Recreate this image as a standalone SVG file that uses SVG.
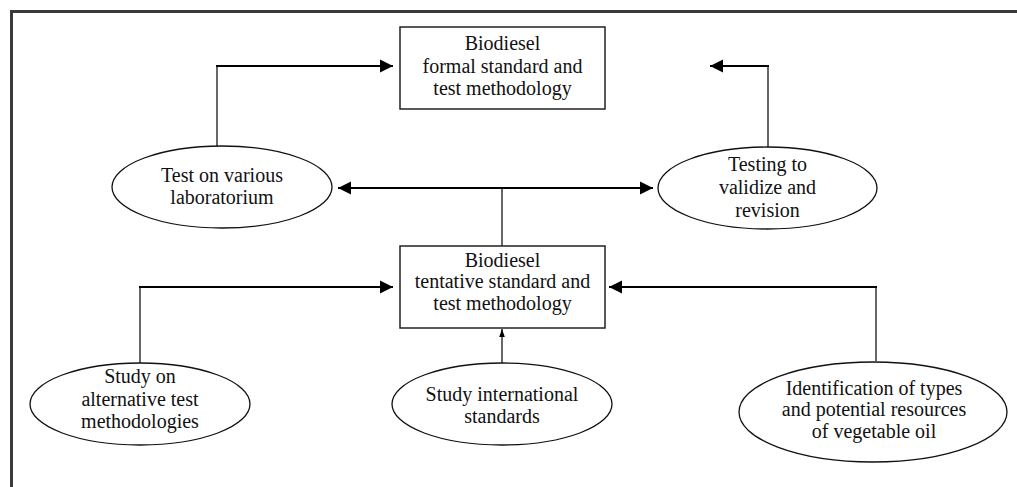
<svg xmlns="http://www.w3.org/2000/svg" width="1017" height="487" viewBox="0 0 1017 487">
<style>
.frame{fill:none;stroke:#3a3a3a;stroke-width:3}
.box{fill:#fff;stroke:#222;stroke-width:1.5}
.ell{fill:#fff;stroke:#111;stroke-width:1.3}
.t{font-family:"Liberation Serif","Times New Roman",serif;font-size:20px;fill:#111;text-anchor:middle}
.thick{fill:none;stroke:#000;stroke-width:2.2}
.thin{fill:none;stroke:#000;stroke-width:1.2}
</style>
<defs>
<marker id="ah" viewBox="0 0 10 10" refX="10" refY="5" markerWidth="6" markerHeight="6" orient="auto-start-reverse" markerUnits="strokeWidth">
<path d="M0,0 L10,5 L0,10 z" fill="#000"/>
</marker>
<marker id="ahs" viewBox="0 0 10 10" refX="10" refY="5" markerWidth="7" markerHeight="7" orient="auto" markerUnits="strokeWidth">
<path d="M0,1.5 L10,5 L0,8.5 z" fill="#000"/>
</marker>
</defs>
<rect width="1017" height="487" fill="#fff"/>
<path class="frame" d="M11.5,487 V11.5 H1017"/>
<g id="connectors">
<path class="thin" d="M217,147 V66"/>
<path class="thick" d="M216,66 H393" marker-end="url(#ah)"/>
<path class="thin" d="M768,147 V66"/>
<path class="thick" d="M769,66 H710" marker-end="url(#ah)"/>
<path class="thick" d="M338,188 H653" marker-start="url(#ah)" marker-end="url(#ah)"/>
<path class="thin" d="M502,188 V246"/>
<path class="thin" d="M140,363 V287"/>
<path class="thick" d="M139,287 H393" marker-end="url(#ah)"/>
<path class="thin" d="M876,361 V287"/>
<path class="thick" d="M877,287 H609" marker-end="url(#ah)"/>
<path class="thin" d="M502,363 V329" marker-end="url(#ahs)"/>
</g>
<g id="formal">
<rect class="box" x="400" y="27" width="205" height="82"/>
<text class="t" x="502.5" y="50">Biodiesel</text>
<text class="t" x="502.5" y="73">formal standard and</text>
<text class="t" x="502.5" y="95">test methodology</text>
</g>
<g id="lab">
<ellipse class="ell" cx="222" cy="187" rx="110" ry="41"/>
<text class="t" x="222" y="182">Test on various</text>
<text class="t" x="222" y="204">laboratorium</text>
</g>
<g id="validize">
<ellipse class="ell" cx="767.5" cy="188" rx="109.5" ry="41"/>
<text class="t" x="767.5" y="171">Testing to</text>
<text class="t" x="767.5" y="194">validize and</text>
<text class="t" x="767.5" y="217">revision</text>
</g>
<g id="tentative">
<rect class="box" x="400" y="246" width="205" height="82"/>
<text class="t" x="502.5" y="267">Biodiesel</text>
<text class="t" x="502.5" y="288">tentative standard and</text>
<text class="t" x="502.5" y="310">test methodology</text>
</g>
<g id="alt">
<ellipse class="ell" cx="140" cy="404" rx="110" ry="41"/>
<text class="t" x="140" y="383">Study on</text>
<text class="t" x="140" y="406">alternative test</text>
<text class="t" x="140" y="428">methodologies</text>
</g>
<g id="intl">
<ellipse class="ell" cx="502" cy="404" rx="110" ry="41"/>
<text class="t" x="502" y="401">Study international</text>
<text class="t" x="502" y="423">standards</text>
</g>
<g id="veg">
<ellipse class="ell" cx="873" cy="412" rx="134" ry="50"/>
<text class="t" x="874" y="395">Identification of types</text>
<text class="t" x="874" y="416">and potential resources</text>
<text class="t" x="874" y="438">of vegetable oil</text>
</g>
</svg>
